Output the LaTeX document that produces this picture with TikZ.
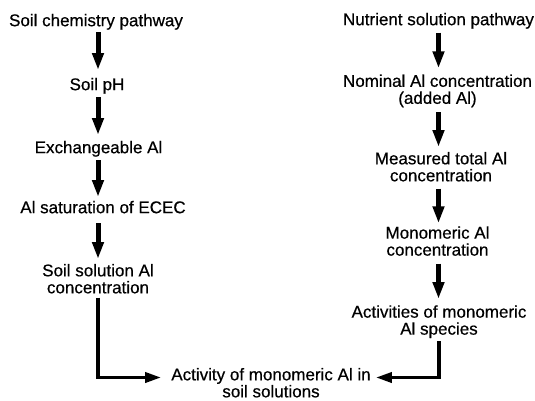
\documentclass[tikz,border=0pt]{standalone}
\usepackage{fontspec}
\setmainfont{Liberation Sans}[FakeBold=0.5]
\usetikzlibrary{arrows.meta}
\begin{document}
\begin{tikzpicture}[x=1pt,y=-1pt,
  lbl/.style={inner sep=0pt,anchor=north,font=\fontsize{17}{17}\selectfont},
  one/.style={lbl,text height=12.2pt,text depth=3.6pt},
  two/.style={lbl,align=center},
  varrow/.style={line width=5pt,-{Triangle[width=11pt,length=17pt]}},
  earrow/.style={line width=3.5pt,-{Triangle[width=10pt,length=16pt]}}]
\useasboundingbox (0,0) rectangle (535,400);
\coordinate (colL) at (98,0);
\coordinate (colR) at (438.5,0);
\coordinate (elbowL) at (98,377.5);
\coordinate (elbowR) at (439,377.5);
% left column
\node[one] (L0) at (96,13.8) {Soil chemistry pathway};
\node[one] (L1) at (97,77.8) {Soil pH};
\node[one] (L2) at (98.5,140.8) {Exchangeable Al};
\node[one] (L3) at (103,200.8) {Al saturation of ECEC};
\node[two] (L4) at (98,263.8) {Soil solution Al\\concentration};
% right column
\node[one] (R0) at (438.5,12.8) {Nutrient solution pathway};
\node[two] (R1) at (437.5,74.3) {Nominal Al concentration\\(added Al)};
\node[two] (R2) at (441,151.8) {Measured total Al\\concentration};
\node[two] (R3) at (437.5,226.1) {Monomeric Al\\concentration};
\node[two] (R4) at (439,305.1) {Activities of monomeric\\Al species};
% bottom
\node[two] (B) at (271,367.8) {Activity of monomeric Al in\\soil solutions};
% left arrows
\draw[varrow,shorten <=2.4pt,shorten >=7.8pt] (L0.south -| colL) -- (L1.north -| colL);
\draw[varrow,shorten <=3.4pt,shorten >=5.8pt] (L1.south -| colL) -- (L2.north -| colL);
\draw[varrow,shorten <=3.4pt,shorten >=3.8pt] (L2.south -| colL) -- (L3.north -| colL);
\draw[varrow,shorten <=6.4pt,shorten >=4.8pt] (L3.south -| colL) -- (L4.north -| colL);
% right arrows
\draw[varrow,shorten <=3.7pt,shorten >=6pt] (R0.south -| colR) -- (R1.north -| colR);
\draw[varrow,shorten <=4.9pt,shorten >=4.8pt] (R1.south -| colR) -- (R2.north -| colR);
\draw[varrow,shorten <=7pt,shorten >=2.8pt] (R2.south -| colR) -- (R3.north -| colR);
\draw[varrow,shorten <=7.7pt,shorten >=6.1pt] (R3.south -| colR) -- (R4.north -| colR);
% elbows
\draw[earrow,shorten <=4pt,shorten >=10pt] (L4.south -| colL) -- (elbowL) -- (elbowL -| B.west);
\draw[earrow,shorten <=3.1pt,shorten >=5pt] (R4.south -| elbowR) -- (elbowR) -- (elbowR -| B.east);
\end{tikzpicture}
\end{document}
